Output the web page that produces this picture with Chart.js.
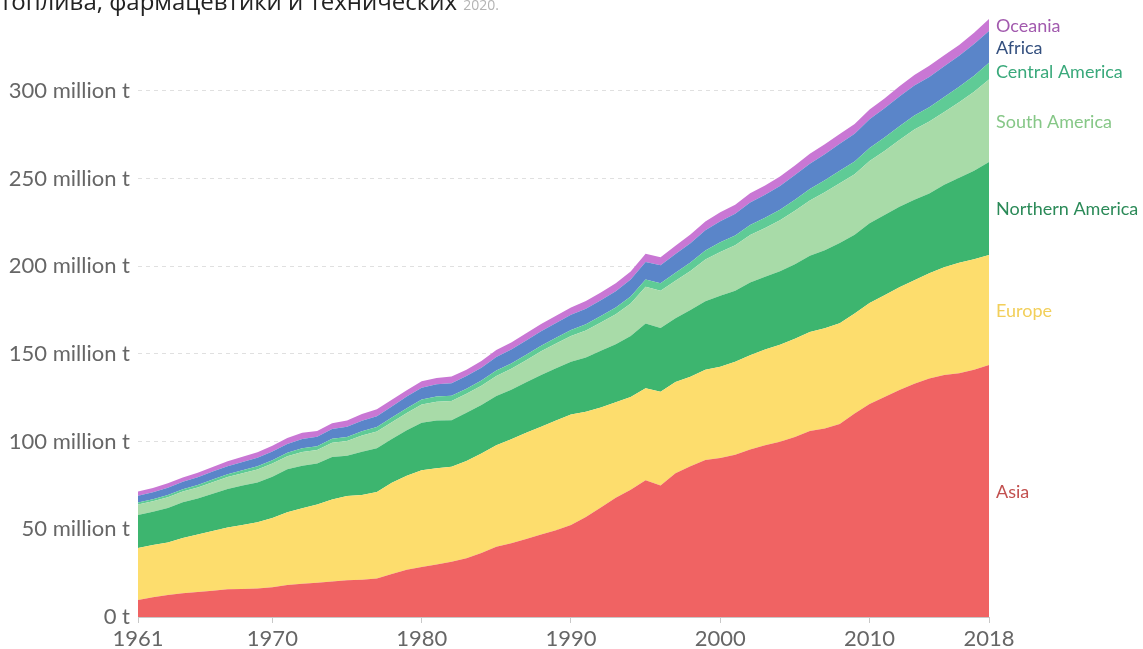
<!DOCTYPE html>
<html>
<head>
<meta charset="utf-8">
<script src="https://cdn.jsdelivr.net/npm/chart.js@4.4.1/dist/chart.umd.min.js"></script>
<style>
  html, body { margin: 0; padding: 0; background: #fff; overflow: hidden; }
  #wrap { position: relative; width: 1143px; height: 649px; }
  #title { position: absolute; left: 0; top: -11px; font-family: "Open Sans", sans-serif; font-size: 24px; line-height: 24px; color: #222; white-space: nowrap; }
  #title span { font-size: 14px; color: #b4b4b4; }
  canvas { position: absolute; left: 0; top: 0; }
</style>
</head>
<body>
<div id="wrap">
  <canvas id="c" width="1143" height="649"></canvas>
  <div id="title">топлива, фармацевтики и технических <span>2020.</span></div>
</div>
<script>
const years = [];
for (let y = 1961; y <= 2018; y++) years.push(y);

const seriesNames = ["Asia", "Europe", "Northern America", "South America", "Central America", "Africa", "Oceania"];

const asia = [9.7,11.2,12.5,13.5,14.3,15.0,15.8,16.0,16.3,17.0,
  18.2,19.0,19.6,20.3,21.0,21.2,22.0,24.5,27.0,28.5,
  30.0,31.5,33.5,36.5,40.0,42.0,44.5,47.0,49.5,52.5,
  57.0,62.5,68.0,72.5,78.0,75.0,82.0,86.0,89.5,90.7,
  92.5,95.5,98.0,100.0,102.7,106.0,107.5,110.0,116.0,121.5,
  125.5,129.5,133.0,136.0,138.0,139.0,141.0,143.7];
const europe = [29.7,29.8,30.0,31.5,32.7,34.0,35.2,36.5,37.8,39.5,
  41.5,43.0,44.5,46.7,48.0,48.3,49.3,52.0,53.5,55.2,
  54.8,54.2,55.5,56.8,58.0,59.4,60.5,61.5,62.5,63.0,
  60.0,57.0,54.5,53.0,52.5,53.5,52.0,51.0,51.5,52.0,
  53.0,53.8,54.5,55.2,56.0,56.5,57.2,57.5,57.0,57.5,
  58.0,58.5,59.0,60.0,61.5,63.0,63.0,62.8];
const northernAmerica = [18.8,19.0,19.6,20.5,20.6,21.3,22.0,22.5,22.6,23.5,
  24.6,24.3,23.4,24.3,22.9,24.8,25.0,25.0,26.0,27.0,
  27.2,26.5,27.5,27.6,28.0,28.2,28.8,29.5,29.8,30.0,
  31.0,32.3,33.0,34.8,36.8,36.3,36.3,38.0,39.0,40.5,
  40.5,41.5,41.5,42.0,42.5,43.5,44.5,45.8,45.0,45.5,
  45.8,46.0,46.0,45.5,47.0,48.5,50.5,53.0];
const southAmerica = [5.9,6.0,6.2,6.1,6.3,6.6,6.8,7.0,7.4,7.5,
  7.3,7.8,7.7,8.0,8.5,9.2,9.5,9.6,9.9,10.5,
  10.8,11.0,10.8,10.9,11.5,11.9,12.6,13.5,14.2,14.8,
  15.4,16.2,17.2,18.5,21.0,21.2,21.5,22.3,23.8,25.0,
  26.0,27.0,27.8,29.0,30.5,31.5,33.0,34.0,34.5,35.5,
  36.5,38.0,40.0,41.0,41.5,43.0,45.0,47.0];
const centralAmerica = [1.2,1.2,1.3,1.3,1.4,1.5,1.6,1.7,1.8,1.9,
  2.0,2.1,2.2,2.3,2.3,2.4,2.5,2.6,2.7,2.8,
  2.9,3.0,2.9,3.0,3.1,3.1,3.2,3.2,3.2,3.3,
  3.5,3.6,3.8,4.0,4.2,4.3,4.5,4.8,5.2,5.5,
  5.6,5.8,5.9,6.1,6.3,6.6,6.9,7.2,7.3,7.5,
  7.7,7.9,8.0,8.2,8.6,8.9,9.2,9.5];
const africa = [3.9,4.0,4.1,4.2,4.4,4.5,4.6,4.7,4.9,5.0,
  5.1,5.3,5.4,5.6,5.8,6.0,6.2,6.4,6.6,6.8,
  7.0,7.1,7.2,7.4,7.6,7.9,8.1,8.3,8.5,8.7,
  8.9,9.0,9.3,9.6,10.0,10.3,10.7,11.1,11.5,12.0,
  12.3,12.7,13.1,13.5,14.0,14.4,14.8,15.3,15.8,16.3,
  16.6,16.9,17.1,17.3,17.5,17.7,18.0,18.2];
const oceania = [2.3,2.4,2.5,2.5,2.6,2.7,2.8,3.0,3.1,3.3,
  3.4,3.5,3.3,3.3,3.6,3.8,3.9,3.8,3.6,3.7,
  3.6,3.8,3.6,3.8,4.0,4.1,4.1,4.1,4.1,4.2,
  4.4,4.5,4.5,4.6,4.6,4.6,4.7,4.9,5.0,5.1,
  5.2,5.3,5.3,5.4,5.5,5.6,5.7,5.6,5.5,5.6,
  5.6,5.8,6.0,6.3,6.2,6.1,6.4,6.8];

const xTickYears = [1961, 1970, 1980, 1990, 2000, 2010, 2018];
const yTickValues = [0, 50, 100, 150, 200, 250, 300];

const seriesValues = [asia, europe, northernAmerica, southAmerica, centralAmerica, africa, oceania];
const fillColors = ["#f06363", "#fddd6d", "#3db56f", "#a8dba8", "#5fcb96", "#5a85c9", "#c977d4"];
const labelColors = ["#c2504f", "#f2cf5a", "#2b8a58", "#86c787", "#3aa97b", "#34507f", "#a25aae"];

const datasets = seriesValues.map((vals, i) => ({
  label: seriesNames[i],
  data: vals.map((v, k) => ({ x: years[k], y: v })),
  backgroundColor: fillColors[i],
  borderWidth: 0,
  pointRadius: 0,
  tension: 0,
  fill: i === 0 ? 'origin' : '-1'
}));

const endLabels = {
  id: 'endLabels',
  afterDraw(chart) {
    const ctx = chart.ctx;
    const ys = chart.scales.y;
    let cum = 0;
    const items = [];
    chart.data.datasets.forEach((ds, i) => {
      const v = ds.data[ds.data.length - 1].y;
      const mid = cum + v / 2;
      cum += v;
      items.push({ text: ds.label, y: ys.getPixelForValue(mid), color: labelColors[i] });
    });
    items.sort((a, b) => a.y - b.y);
    for (let i = 1; i < items.length; i++) {
      if (items[i].y - items[i - 1].y < 19) items[i].y = items[i - 1].y + 19;
    }
    ctx.save();
    ctx.font = '18px Lato';
    ctx.textAlign = 'left';
    ctx.textBaseline = 'middle';
    items.forEach(it => {
      ctx.fillStyle = it.color;
      ctx.fillText(it.text, chart.chartArea.right + 7, it.y + 1);
    });
    ctx.restore();
  }
};

new Chart(document.getElementById('c'), {
  type: 'line',
  data: { datasets },
  options: {
    responsive: false,
    animation: false,
    layout: { padding: { left: 0, right: 154, top: 12, bottom: 0 } },
    plugins: { legend: { display: false }, tooltip: { enabled: false } },
    elements: { line: { borderWidth: 0 } },
    scales: {
      x: {
        type: 'linear',
        min: 1961,
        max: 2018,
        afterBuildTicks: s => { s.ticks = xTickYears.map(v => ({ value: v })); },
        afterFit: s => { s.height = 32; s.paddingLeft = 0; s.paddingRight = 0; },
        grid: { display: true, drawOnChartArea: false, drawTicks: true, tickLength: 6, color: '#c8c8c8' },
        border: { display: true, color: '#c8c8c8' },
        ticks: {
          font: { family: 'Lato', size: 22 },
          color: '#666',
          padding: 3,
          maxRotation: 0,
          autoSkip: false,
          callback: v => String(v)
        }
      },
      y: {
        stacked: true,
        min: 0,
        max: 345,
        z: 1,
        afterBuildTicks: s => { s.ticks = yTickValues.map(v => ({ value: v })); },
        afterFit: s => { s.width = 138; s.paddingTop = 0; s.paddingBottom = 0; },
        grid: {
          drawTicks: false,
          color: c => (c.tick && c.tick.value === 0) ? 'rgba(0,0,0,0)' : 'rgba(0,0,0,0.12)'
        },
        border: { display: false, dash: [4, 4] },
        ticks: {
          font: { family: 'Lato', size: 22 },
          color: '#666',
          padding: 8,
          callback: v => v === 0 ? '0 t' : v + ' million t'
        }
      }
    }
  },
  plugins: [endLabels]
});
</script>
</body>
</html>
